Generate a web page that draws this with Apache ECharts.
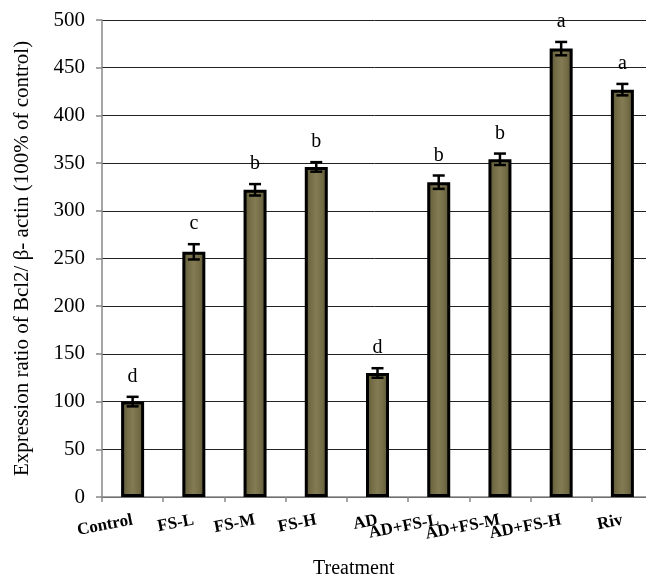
<!DOCTYPE html>
<html>
<head>
<meta charset="utf-8">
<script src="https://cdn.jsdelivr.net/npm/echarts@6/dist/echarts.min.js"></script>
<style>
  html, body { margin: 0; padding: 0; background: #fff; }
  #chart { width: 646px; height: 578px; }
</style>
</head>
<body>
<div id="chart"></div>
<script>
// Bcl2 / beta-actin expression per treatment group (mean, SE, significance letter)
const categories = ['Control', 'FS-L', 'FS-M', 'FS-H', 'AD', 'AD+FS-L', 'AD+FS-M', 'AD+FS-H', 'Riv'];
const means = [100, 257, 322, 346, 130, 330, 354, 470, 427];
const errors = [5, 8, 6, 5, 5, 7, 6, 7, 6];
const letters = ['d', 'c', 'b', 'b', 'd', 'b', 'b', 'a', 'a'];
const yTicks = [0, 50, 100, 150, 200, 250, 300, 350, 400, 450, 500];

const serif = '"Liberation Serif", "Times New Roman", Times, serif';

const chart = echarts.init(document.getElementById('chart'), null, { renderer: 'canvas' });

const barFill = new echarts.graphic.LinearGradient(0, 0, 1, 0, [
  { offset: 0, color: '#575133' },
  { offset: 0.25, color: '#736c46' },
  { offset: 0.5, color: '#827b53' },
  { offset: 0.75, color: '#736c46' },
  { offset: 1, color: '#575133' }
]);

const errorData = categories.map((c, i) => [i, means[i], errors[i]]);

chart.setOption({
  animation: false,
  grid: { left: 102, top: 20, right: -7, bottom: 81, containLabel: false, outerBoundsMode: 'none' },
  xAxis: {
    type: 'category',
    data: categories,
    axisLine: { lineStyle: { color: '#888', width: 1.5 } },
    axisTick: { show: true, length: 5, interval: 0, lineStyle: { color: '#888', width: 1.5 } },
    axisLabel: {
      interval: 0,
      rotate: 11,
      margin: 23,
      fontFamily: serif,
      fontWeight: 'bold',
      fontSize: 17,
      color: '#000'
    }
  },
  yAxis: {
    type: 'value',
    min: yTicks[0],
    max: yTicks[yTicks.length - 1],
    interval: yTicks[1] - yTicks[0],
    name: 'Expression ratio of Bcl2/ β- actin (100% of control)',
    nameLocation: 'middle',
    nameRotate: 90,
    nameGap: 69,
    nameTextStyle: { fontFamily: serif, fontSize: 21, color: '#000' },
    axisLine: { show: true, lineStyle: { color: '#888', width: 1.5 } },
    axisTick: { show: true, length: 6, inside: false, lineStyle: { color: '#888', width: 1.5 } },
    axisLabel: { fontFamily: serif, fontSize: 21, color: '#000', margin: 17 },
    splitLine: { show: true, lineStyle: { color: '#222', width: 1 } }
  },
  graphic: [{
    type: 'text',
    left: 313,
    top: 559,
    style: { text: 'Treatment', font: '20px ' + serif, fill: '#000' }
  }],
  series: [
    {
      type: 'bar',
      data: means,
      barWidth: 23,
      itemStyle: { color: barFill, borderColor: '#000', borderWidth: 3 },
      z: 2
    },
    {
      type: 'custom',
      data: errorData,
      z: 5,
      renderItem: function (params, api) {
        const i = api.value(0);
        const m = api.value(1);
        const e = api.value(2);
        const hi = api.coord([i, m + e]);
        const lo = api.coord([i, m - e]);
        const cap = 6;
        const ls = { stroke: '#000', lineWidth: 2.5 };
        return {
          type: 'group',
          children: [
            { type: 'line', shape: { x1: hi[0], y1: hi[1], x2: lo[0], y2: lo[1] }, style: ls },
            { type: 'line', shape: { x1: hi[0] - cap, y1: hi[1], x2: hi[0] + cap, y2: hi[1] }, style: ls },
            { type: 'line', shape: { x1: lo[0] - cap, y1: lo[1], x2: lo[0] + cap, y2: lo[1] }, style: ls },
            {
              type: 'text',
              x: hi[0],
              y: hi[1] - 10,
              style: {
                text: letters[params.dataIndex],
                font: '20px ' + serif,
                fill: '#000',
                align: 'center',
                verticalAlign: 'bottom'
              }
            }
          ]
        };
      }
    }
  ]
});
</script>
</body>
</html>
